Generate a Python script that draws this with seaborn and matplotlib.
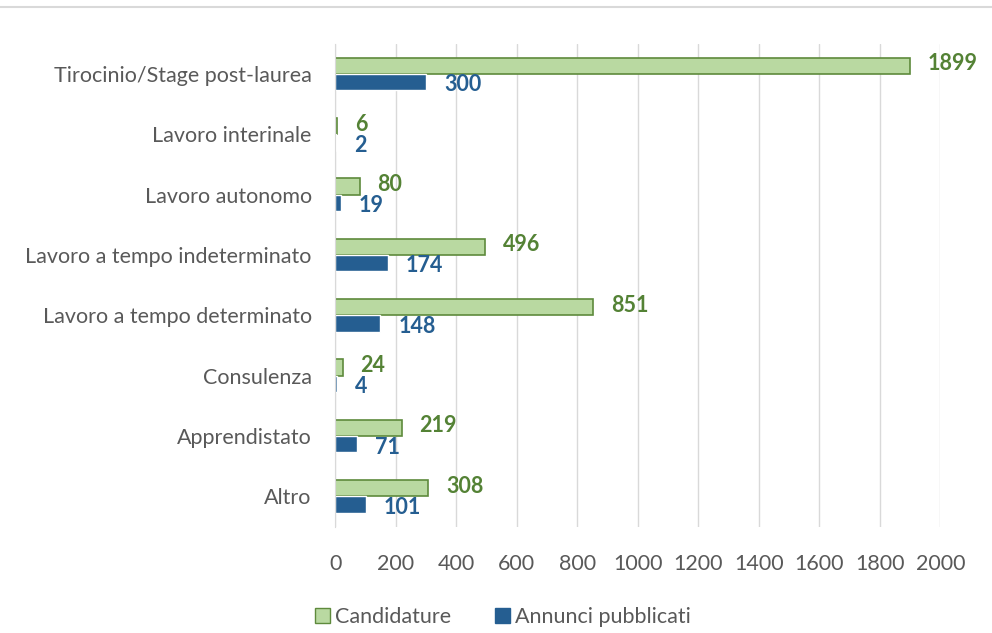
import seaborn as sns
import pandas as pd
import matplotlib.pyplot as plt
from matplotlib.lines import Line2D

categorie = ['Tirocinio/Stage post-laurea', 'Lavoro interinale', 'Lavoro autonomo',
             'Lavoro a tempo indeterminato', 'Lavoro a tempo determinato',
             'Consulenza', 'Apprendistato', 'Altro']
candidature = [1899, 6, 80, 496, 851, 24, 219, 308]
annunci = [300, 2, 19, 174, 148, 4, 71, 101]
serie = ['Candidature', 'Annunci pubblicati']

df = pd.DataFrame({
    'categoria': categorie * 2,
    'valore': candidature + annunci,
    'serie': [serie[0]] * len(categorie) + [serie[1]] * len(categorie),
})

sns.set_style('white')
plt.rcParams['font.family'] = ['Lato', 'DejaVu Sans']

verde = '#B9D9A1'
verde_bordo = '#5E8A3C'
verde_testo = '#548235'
blu = '#255E91'
grigio = '#595959'
fs = 15.5

fig = plt.figure(figsize=(9.92, 6.33), dpi=100)
ax = fig.add_axes([0.338, 0.168, 0.61, 0.763])

sns.barplot(data=df, y='categoria', x='valore', hue='serie', order=categorie,
            hue_order=serie, palette=[verde, blu], width=0.54, orient='h',
            saturation=1, ax=ax, legend=True)

ax.set_xlim(0, 2000)
ax.set_xticks(range(0, 2001, 200))
ax.set_xlabel('')
ax.set_ylabel('')
ax.xaxis.grid(True, color='#D9D9D9', linewidth=1)
ax.set_axisbelow(True)
for s in ['top', 'right', 'bottom']:
    ax.spines[s].set_visible(False)
ax.spines['left'].set_color('#D9D9D9')
ax.tick_params(axis='both', length=0, labelsize=fs, colors=grigio)
ax.tick_params(axis='x', pad=20)
ax.tick_params(axis='y', pad=17)

cont_verde, cont_blu = ax.containers[0], ax.containers[1]
for p in cont_verde:
    p.set_edgecolor(verde_bordo)
    p.set_linewidth(1.2)
etich_v = ax.bar_label(cont_verde, padding=13, color=verde_testo, fontsize=fs, fontweight='bold')
etich_b = ax.bar_label(cont_blu, padding=13, color=blu, fontsize=fs, fontweight='bold')
# separa un po' le etichette verticalmente
for t in etich_v:
    t.xyann = (13, 1.5)
for t in etich_b:
    t.xyann = (13, -2)

ax.get_legend().remove()
handles, labels = ax.get_legend_handles_labels()
leg = fig.legend(handles, labels, loc='center', bbox_to_anchor=(503 / 992, 1 - 617 / 633),
                 ncol=2, frameon=False, fontsize=fs, handlelength=0.7, handleheight=0.7,
                 handletextpad=0.25, columnspacing=2.0)
leg.legend_handles[0].set_edgecolor(verde_bordo)
leg.legend_handles[1].set_edgecolor(blu)
for t in leg.get_texts():
    t.set_color(grigio)

fig.add_artist(Line2D([0, 1], [1 - 7 / 633, 1 - 7 / 633], color='#D9D9D9', linewidth=1.5))

fig.savefig('out.png', dpi=100)
